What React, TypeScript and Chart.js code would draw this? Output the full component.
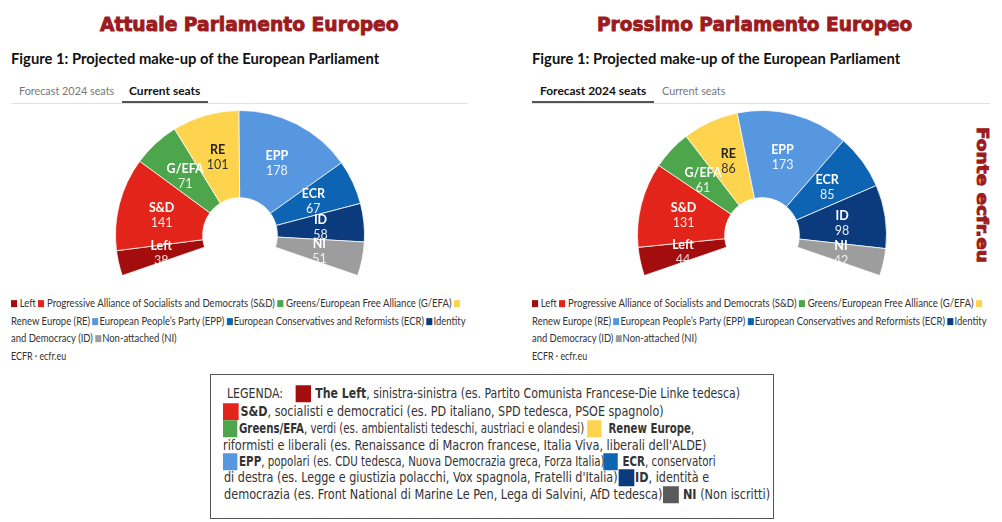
import React, { useEffect, useLayoutEffect, useRef } from 'react';
import { Chart, registerables } from 'chart.js';
Chart.register(...registerables);

// ---- data ----
const PARTIES = ['Left', 'S&D', 'G/EFA', 'RE', 'EPP', 'ECR', 'ID', 'NI'];
const CURRENT_SEATS = [38, 141, 71, 101, 178, 67, 58, 51];
const FORECAST_SEATS = [44, 131, 61, 86, 173, 85, 98, 42];
const PARTY_COLORS = ['#a30d0d', '#e2241b', '#4ea64c', '#fed44f', '#5797e0', '#0d64b2', '#0b3b7c', '#9d9d9d'];
const LABEL_COLORS = ['#ffffff', '#ffffff', '#ffffff', '#222222', '#ffffff', '#ffffff', '#ffffff', '#ffffff'];
const VALUE_COLORS = ['rgba(255,255,255,0.85)', 'rgba(255,255,255,0.9)', 'rgba(255,255,255,0.9)', '#333333', 'rgba(255,255,255,0.9)', 'rgba(255,255,255,0.9)', 'rgba(255,255,255,0.9)', 'rgba(255,255,255,0.85)'];
const NI_BOX_COLOR = '#5a5a5a';
const TITLE_RED = '#9b1b1e';

const segLabels = {
  id: 'segLabels',
  afterDatasetsDraw(chart: any) {
    const ctx = chart.ctx;
    const meta = chart.getDatasetMeta(0);
    const data = chart.data.datasets[0].data;
    const labels = chart.data.labels;
    meta.data.forEach((arc: any, i: number) => {
      const p = arc.getProps(['x', 'y', 'startAngle', 'endAngle', 'innerRadius', 'outerRadius'], true);
      const a = (p.startAngle + p.endAngle) / 2;
      const r = (p.innerRadius + p.outerRadius) / 2;
      const cx = p.x + Math.cos(a) * r;
      const cy = p.y + Math.sin(a) * r;
      ctx.save();
      ctx.textAlign = 'center';
      ctx.textBaseline = 'middle';
      ctx.font = 'bold 12.5px Lato';
      ctx.fillStyle = LABEL_COLORS[i];
      ctx.fillText(String(labels[i]), cx, cy - 7);
      ctx.font = '12.5px Lato';
      ctx.fillStyle = VALUE_COLORS[i];
      ctx.fillText(String(data[i]), cx, cy + 8);
      ctx.restore();
    });
  },
};

function Parliament({ seats, left, top }: { seats: number[]; left: number; top: number }) {
  const ref = useRef<HTMLCanvasElement>(null);
  useEffect(() => {
    if (!ref.current) return;
    const chart = new Chart(ref.current, {
      type: 'doughnut',
      data: {
        labels: PARTIES,
        datasets: [{
          data: seats,
          backgroundColor: PARTY_COLORS,
          borderColor: 'rgba(255,255,255,0.75)',
          borderWidth: 1,
        }],
      },
      options: {
        responsive: false,
        animation: false,
        circumference: 218,
        rotation: -109,
        cutout: '30%',
        layout: { padding: 0 },
        plugins: { legend: { display: false }, tooltip: { enabled: false } },
      } as any,
      plugins: [segLabels as any],
    });
    return () => chart.destroy();
  }, [seats]);
  return <canvas ref={ref} width={250} height={170} style={{ position: 'absolute', left, top }} />;
}

function Fit({ x, y, w, center = false, rotate = 0, style, children }: any) {
  const ref = useRef<HTMLDivElement>(null);
  const apply = () => {
    const el = ref.current;
    if (!el) return;
    el.style.transform = 'none';
    const nat = el.offsetWidth;
    const s = nat > 0 ? w / nat : 1;
    el.style.transform = center
      ? `translate(-50%,-50%) rotate(${rotate}deg) scaleX(${s})`
      : `translateY(-50%) scaleX(${s})`;
  };
  useLayoutEffect(() => {
    apply();
    const f: any = (document as any).fonts;
    if (f && f.ready) f.ready.then(apply);
  });
  return (
    <div
      ref={ref}
      style={{
        position: 'absolute', left: x, top: y, whiteSpace: 'nowrap', width: 'max-content',
        transformOrigin: center ? '50% 50%' : '0 50%', lineHeight: 1.25, ...style,
      }}
    >
      {children}
    </div>
  );
}

const Sq = ({ c, s = 7, mr = 3 }: { c: string; s?: number; mr?: number }) => (
  <span style={{ display: 'inline-block', width: s, height: s, background: c, marginRight: mr, verticalAlign: 'middle', position: 'relative', top: -1 }} />
);

const BigSq = ({ c, mr = 2, ml = 0 }: { c: string; mr?: number; ml?: number }) => (
  <span style={{ display: 'inline-block', width: 17, height: 17, background: c, marginRight: mr, marginLeft: ml, verticalAlign: 'middle', position: 'relative', top: -1 }} />
);

const legendFont: React.CSSProperties = { fontFamily: 'Lato, sans-serif', fontSize: 11, color: '#333' };
const boxFont: React.CSSProperties = { fontFamily: "'Liberation Sans Narrow', 'DejaVu Sans Condensed', Roboto, sans-serif", fontSize: 13.5, color: '#333' };
const titleFont: React.CSSProperties = { fontFamily: "'DejaVu Sans', sans-serif", fontWeight: 900, fontSize: 19, color: TITLE_RED, WebkitTextStroke: `0.9px ${TITLE_RED}` } as any;
const figFont: React.CSSProperties = { fontFamily: 'Lato, sans-serif', fontWeight: 700, fontSize: 14.5, color: '#111' };
const tabFont: React.CSSProperties = { fontFamily: 'Lato, sans-serif', fontSize: 11.5, color: '#777' };
const tabBold: React.CSSProperties = { fontFamily: 'Lato, sans-serif', fontSize: 11.5, color: '#111', fontWeight: 700 };

function Panel({ ox, title, titleX, titleW, activeForecast, seats, chartLeft, legendW, lineEnd }: any) {
  const C = PARTY_COLORS;
  return (
    <>
      <Fit x={titleX} y={25} w={titleW} style={titleFont}>{title}</Fit>
      <Fit x={ox} y={59} w={368} style={figFont}>Figure 1: Projected make-up of the European Parliament</Fit>
      {activeForecast ? (
        <>
          <Fit x={ox + 8} y={91} w={106} style={tabBold}>Forecast 2024 seats</Fit>
          <Fit x={ox + 130} y={91} w={63} style={tabFont}>Current seats</Fit>
          <div style={{ position: 'absolute', left: ox, top: 102.5, width: lineEnd - ox, height: 1, background: '#e2e2e2' }} />
          <div style={{ position: 'absolute', left: ox, top: 101, width: 122, height: 2, background: '#555' }} />
        </>
      ) : (
        <>
          <Fit x={ox + 8} y={91} w={95} style={tabFont}>Forecast 2024 seats</Fit>
          <Fit x={ox + 118} y={91} w={71} style={tabBold}>Current seats</Fit>
          <div style={{ position: 'absolute', left: ox, top: 102.5, width: lineEnd - ox, height: 1, background: '#e2e2e2' }} />
          <div style={{ position: 'absolute', left: ox + 111, top: 101, width: 86, height: 2, background: '#555' }} />
        </>
      )}
      <Parliament seats={seats} left={chartLeft} top={108} />
      <Fit x={ox} y={303} w={legendW[0]} style={legendFont}>
        <Sq c={C[0]} />Left <Sq c={C[1]} />Progressive Alliance of Socialists and Democrats (S&amp;D) <Sq c={C[2]} />Greens/European Free Alliance (G/EFA) <Sq c={C[3]} mr={0} />
      </Fit>
      <Fit x={ox} y={321} w={legendW[1]} style={legendFont}>
        Renew Europe (RE) <Sq c={C[4]} mr={1} />European People’s Party (EPP) <Sq c={C[5]} mr={1} />European Conservatives and Reformists (ECR) <Sq c={C[6]} mr={1} />Identity
      </Fit>
      <Fit x={ox} y={338} w={legendW[2]} style={legendFont}>
        and Democracy (ID) <Sq c={C[7]} mr={1} />Non-attached (NI)
      </Fit>
      <Fit x={ox} y={356} w={legendW[3]} style={legendFont}>ECFR · ecfr.eu</Fit>
    </>
  );
}

export default function App() {
  const C = PARTY_COLORS;
  return (
    <div style={{ position: 'absolute', left: 0, top: 0, width: 1002, height: 522, background: '#fff', overflow: 'hidden' }}>
      <Panel ox={11} title="Attuale Parlamento Europeo" titleX={100} titleW={299} activeForecast={false}
        seats={CURRENT_SEATS} chartLeft={115} legendW={[449, 455, 166, 55]} lineEnd={468} />
      <Panel ox={532} title="Prossimo Parlamento Europeo" titleX={597} titleW={315} activeForecast={true}
        seats={FORECAST_SEATS} chartLeft={637} legendW={[450, 455, 165, 55]} lineEnd={990} />

      <Fit x={982} y={195} w={136} center rotate={90} style={{ ...titleFont, fontSize: 16 }}>Fonte ecfr.eu</Fit>

      <div style={{ position: 'absolute', left: 210, top: 374, width: 564, height: 145, border: '1.5px solid #555', boxSizing: 'border-box' }} />
      <Fit x={227} y={394} w={513} style={boxFont}>
        LEGENDA: <BigSq c={C[0]} ml={10} mr={5} /><b>The Left</b>, sinistra-sinistra (es. Partito Comunista Francese-Die Linke tedesca)
      </Fit>
      <Fit x={223} y={412} w={441} style={boxFont}>
        <BigSq c={C[1]} /><b>S&amp;D</b>, socialisti e democratici (es. PD italiano, SPD tedesca, PSOE spagnolo)
      </Fit>
      <Fit x={223} y={429} w={471} style={boxFont}>
        <BigSq c={C[2]} /><b>Greens/EFA</b>, verdi (es. ambientalisti tedeschi, austriaci e olandesi) <BigSq c={C[3]} mr={8} /><b>Renew Europe</b>,
      </Fit>
      <Fit x={223} y={445} w={483} style={boxFont}>
        riformisti e liberali (es. Renaissance di Macron francese, Italia Viva, liberali dell'ALDE)
      </Fit>
      <Fit x={223} y={462} w={493} style={boxFont}>
        <BigSq c={C[4]} /><b>EPP</b>, popolari (es. CDU tedesca, Nuova Democrazia greca, Forza Italia)<BigSq c={C[5]} ml={-2} mr={6} /><b>ECR</b>, conservatori
      </Fit>
      <Fit x={224} y={478} w={485} style={boxFont}>
        di destra (es. Legge e giustizia polacchi, Vox spagnola, Fratelli d'Italia)<BigSq c={C[6]} ml={1} mr={1} /><b>ID</b>, identità e
      </Fit>
      <Fit x={224} y={495} w={546} style={boxFont}>
        democrazia (es. Front National di Marine Le Pen, Lega di Salvini, AfD tedesca)<BigSq c={NI_BOX_COLOR} ml={1} mr={4} /><b>NI</b> (Non iscritti)
      </Fit>
    </div>
  );
}
